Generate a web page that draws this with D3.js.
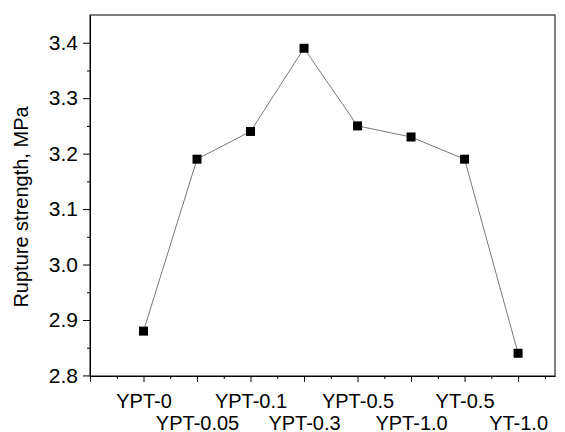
<!DOCTYPE html>
<html>
<head>
<meta charset="utf-8">
<script src="https://cdn.jsdelivr.net/npm/d3@7"></script>
<style>
  body { margin: 0; background: #fff; }
  text { font-family: "Liberation Sans", Arial, sans-serif; }
</style>
</head>
<body>
<svg id="chart" width="565" height="432"></svg>
<script>
// data
const samples = ["YPT-0", "YPT-0.05", "YPT-0.1", "YPT-0.3", "YPT-0.5", "YPT-1.0", "YT-0.5", "YT-1.0"]
const strength = [2.88, 3.19, 3.24, 3.39, 3.25, 3.23, 3.19, 2.84]
const y_ticks = [2.8, 2.9, 3.0, 3.1, 3.2, 3.3, 3.4]

const svg = d3.select("#chart"),
  margin = {top: 15, right: 10, bottom: 56, left: 90},
  width = +svg.attr("width") - margin.left - margin.right,
  height = +svg.attr("height") - margin.top - margin.bottom

const g = svg.append("g").attr("transform", `translate(${margin.left},${margin.top})`)

// index scale, the axis starts one step left of the first sample
const x = d3.scaleLinear().domain([-1, 7.69]).range([0, width])
const y = d3.scaleLinear().domain([2.799, 3.45]).range([height, 0])

// minor ticks first
const minor_x = d3.range(-0.5, 7.6, 1)
g.append("g")
  .attr("transform", `translate(0,${height})`)
  .call(d3.axisBottom(x).tickValues(minor_x).tickSize(3).tickFormat(""))
  .call(a => a.select(".domain").remove())

const minor_y = y_ticks.slice(0, -1).map(v => v + 0.05)
g.append("g")
  .call(d3.axisLeft(y).tickValues(minor_y).tickSize(3).tickFormat(""))
  .call(a => a.select(".domain").remove())

// x axis with alternating labels
const x_axis = g.append("g")
  .attr("transform", `translate(0,${height})`)
  .call(d3.axisBottom(x).tickValues(d3.range(-1, 8)).tickSize(6).tickSizeOuter(0)
    .tickFormat(i => i >= 0 ? samples[i] : ""))
x_axis.selectAll("text")
  .attr("font-size", 20)
  .attr("fill", "#000")
  .attr("y", 0)
  .attr("dy", d => d % 2 === 0 ? 32 : 54)

// y axis
const y_axis = g.append("g")
  .call(d3.axisLeft(y).tickValues(y_ticks).tickSize(7).tickSizeOuter(0).tickFormat(d3.format(".1f")))
y_axis.selectAll("text").attr("font-size", 21).attr("fill", "#000").attr("x", -12)

g.selectAll(".tick line").attr("stroke", "#000")
g.selectAll(".domain").attr("stroke", "#000")

// frame
g.append("rect")
  .attr("width", width).attr("height", height)
  .attr("fill", "none").attr("stroke", "#000").attr("stroke-width", 1)

// line + markers
const line = d3.line().x((d, i) => x(i)).y(d => y(d))
g.append("path")
  .datum(strength)
  .attr("d", line)
  .attr("fill", "none")
  .attr("stroke", "#555")
  .attr("stroke-width", 0.8)

g.selectAll(".pt")
  .data(strength)
  .enter()
  .append("rect")
  .attr("class", "pt")
  .attr("x", (d, i) => x(i) - 4.5)
  .attr("y", d => y(d) - 4.5)
  .attr("width", 9)
  .attr("height", 9)
  .attr("fill", "#000")

svg.append("text")
  .attr("transform", `translate(28,207) rotate(-90)`)
  .attr("text-anchor", "middle")
  .attr("font-size", 20)
  .text("Rupture strength, MPa")
</script>
</body>
</html>
